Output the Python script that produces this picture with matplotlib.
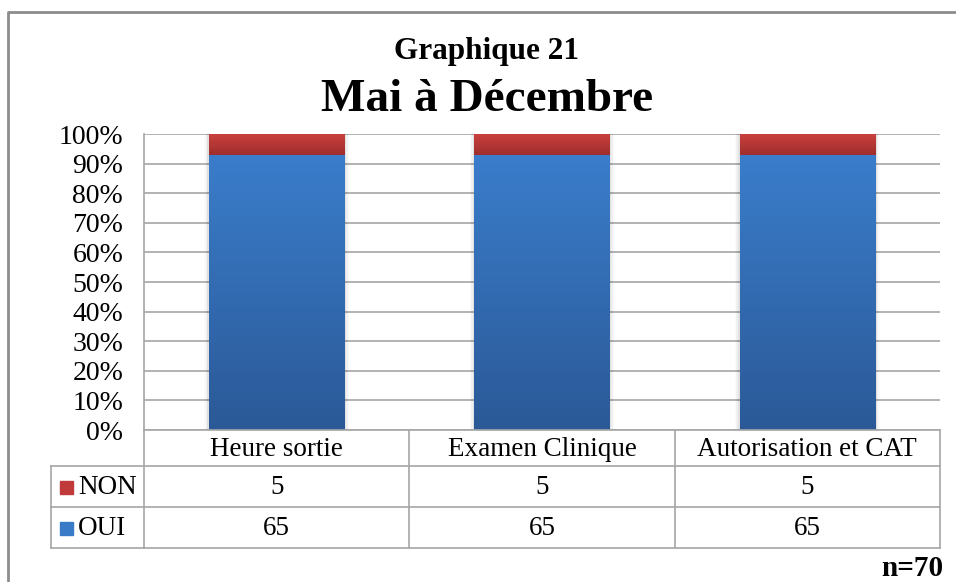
import matplotlib.pyplot as plt
import numpy as np
from matplotlib.colors import LinearSegmentedColormap
from matplotlib.lines import Line2D
from matplotlib.patches import Rectangle

categories = ["Heure sortie", "Examen Clinique", "Autorisation et CAT"]
oui = [65, 65, 65]
non = [5, 5, 5]
series_names = ["NON", "OUI"]
yticks = [0, 10, 20, 30, 40, 50, 60, 70, 80, 90, 100]

W, H = 956, 582
plt.rcParams['font.family'] = ['Liberation Serif', 'DejaVu Serif']

fig = plt.figure(figsize=(W / 100, H / 100), dpi=100)


def fx(px):
    return px / W


def fy(py):
    return 1 - py / H


# plot area in pixels
L, R, T, B = 144, 940, 134, 430
ax = fig.add_axes([fx(L), fy(B), fx(R - L), (B - T) / H])

total = np.array(oui) + np.array(non)
oui_pct = np.array(oui) / total * 100
non_pct = np.array(non) / total * 100
x = np.arange(len(categories))
width = 0.51

blue_cmap = LinearSegmentedColormap.from_list("b", ["#2b5997", "#3a7dcb"])
red_cmap = LinearSegmentedColormap.from_list("r", ["#9e2d2b", "#cc4240"])
grad = np.linspace(0, 1, 256).reshape(-1, 1)

bars_oui = ax.bar(x, oui_pct, width, color="#3a7bc8", zorder=3)
bars_non = ax.bar(x, non_pct, width, bottom=oui_pct, color="#c0393b", zorder=3)

for bars, cmap in [(bars_oui, blue_cmap), (bars_non, red_cmap)]:
    for b in bars:
        x0, y0 = b.get_x(), b.get_y()
        w, h = b.get_width(), b.get_height()
        im = ax.imshow(grad, cmap=cmap, origin="lower", aspect="auto",
                       extent=[x0, x0 + w, y0, y0 + h], zorder=4)
        im.set_clip_path(b)

# soft shadow
for b in bars_oui:
    for k, a in enumerate([0.06, 0.04, 0.02]):
        d = 0.006 * (k + 1)
        ax.add_patch(Rectangle((b.get_x() - d, -0.3), b.get_width() + 2 * d, 100.6,
                               color="black", alpha=a, lw=0, zorder=2))

ax.set_xlim(-0.5, len(categories) - 0.5)
ax.set_ylim(0, 100)
ax.set_yticks(yticks)
ax.set_yticklabels([f"{t}%" for t in yticks], fontsize=20)
ax.set_xticks([])
ax.tick_params(axis="y", length=0, pad=15)
ax.yaxis.grid(True, color="#a6a6a6", lw=1.2, zorder=0)
for s in ["top", "right", "bottom"]:
    ax.spines[s].set_visible(False)
ax.spines["left"].set_color("#a6a6a6")
ax.spines["left"].set_linewidth(1.2)

# data table
col_edges = [L + i * (R - L) / len(categories) for i in range(len(categories) + 1)]
TL = 51
rows_y = [430, 466, 507, 548]
lc = "#a6a6a6"
fs = 19.5


def hline(y, x0, x1):
    fig.add_artist(Line2D([fx(x0), fx(x1)], [fy(y), fy(y)], color=lc, lw=1.2,
                          transform=fig.transFigure))


def vline(xp, y0, y1):
    fig.add_artist(Line2D([fx(xp), fx(xp)], [fy(y0), fy(y1)], color=lc, lw=1.2,
                          transform=fig.transFigure))


hline(rows_y[0], L, R)
for y in rows_y[1:]:
    hline(y, TL, R)
for xe in col_edges:
    vline(xe, rows_y[0], rows_y[-1])
vline(TL, rows_y[1], rows_y[-1])

for i, cat in enumerate(categories):
    cx = (col_edges[i] + col_edges[i + 1]) / 2
    fig.text(fx(cx), fy((rows_y[0] + rows_y[1]) / 2 + 1), cat, ha="center", va="center", fontsize=fs)
    fig.text(fx(cx), fy((rows_y[1] + rows_y[2]) / 2 + 1), str(non[i]), ha="center", va="center", fontsize=fs)
    fig.text(fx(cx), fy((rows_y[2] + rows_y[3]) / 2 + 1), str(oui[i]), ha="center", va="center", fontsize=fs)

for r, (name, col) in enumerate(zip(series_names, ["#c0393b", "#3a7bc8"])):
    cy = (rows_y[r + 1] + rows_y[r + 2]) / 2
    fig.add_artist(Rectangle((fx(60), fy(cy + 7)), 13 / W, 13 / H, color=col,
                             transform=fig.transFigure))
    fig.text(fx(78), fy(cy + 1), name, ha="left", va="center", fontsize=fs)

# titles
fig.text(fx(487), fy(52), "Graphique 21", ha="center", va="center", fontsize=22.5, fontweight="bold")
fig.text(fx(487), fy(100), "Mai à Décembre", ha="center", va="center", fontsize=34, fontweight="bold")
fig.text(fx(943), fy(568), "n=70", ha="right", va="center", fontsize=21, fontweight="bold")

# outer frame (top and left visible)
fig.add_artist(Line2D([fx(8), fx(8), fx(W)], [fy(H), fy(12), fy(12)], color="#8c8c8c", lw=2,
                      transform=fig.transFigure))

fig.savefig("out.png", dpi=100)
